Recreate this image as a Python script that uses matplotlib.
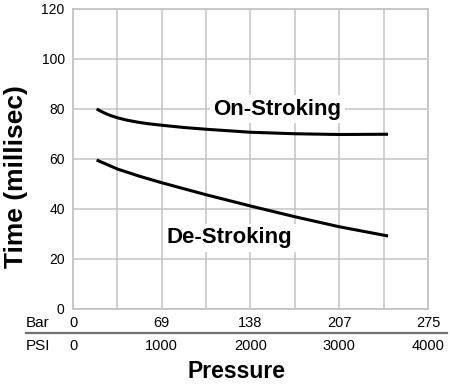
import matplotlib
matplotlib.use("Agg")
import matplotlib.pyplot as plt
from matplotlib.transforms import blended_transform_factory

plt.rcParams['font.family'] = ['Liberation Sans', 'DejaVu Sans']

# Response time vs. pressure
psi_on = [266, 320, 360, 430, 500, 600, 734, 850, 1000, 1250, 1500, 2000, 2500, 3000, 3550]
time_on = [80.0, 79.0, 78.3, 77.3, 76.5, 75.6, 74.7, 74.1, 73.5, 72.6, 71.9, 70.7, 70.1, 69.8, 69.9]

psi_de = [266, 500, 750, 1000, 1500, 2000, 2500, 3000, 3550]
time_de = [59.6, 56.0, 53.1, 50.5, 45.7, 41.2, 36.9, 32.9, 29.2]

psi_ticks = [0, 1000, 2000, 3000, 4000]
psi_labels = ["0", "1000", "2000", "3000", "4000"]
bar_labels = ["0", "69", "138", "207", "275"]
y_ticks = [0, 20, 40, 60, 80, 100, 120]

grid_c = "#c4c4c4"

fig = plt.figure(figsize=(4.5, 3.89), dpi=100)
ax = fig.add_axes([73/450, 1 - 309/389, (428 - 73)/450, (309 - 9)/389])

ax.plot(psi_on, time_on, color="black", lw=2.2, solid_capstyle="butt",
        solid_joinstyle="round", zorder=3)
ax.plot(psi_de, time_de, color="black", lw=2.2, solid_capstyle="butt",
        solid_joinstyle="round", zorder=3)

ax.set_xlim(0, 4000)
ax.set_ylim(0, 120)
ax.set_xticks(range(0, 4001, 500))
ax.set_xticklabels([])
ax.set_yticks(y_ticks)
ax.set_yticklabels([str(v) for v in y_ticks], fontsize=10)
ax.tick_params(axis="both", length=0, pad=6)
ax.grid(True, color=grid_c, lw=1.1)
ax.set_axisbelow(True)
for s in ax.spines.values():
    s.set_color(grid_c)
    s.set_linewidth(1.3)

box = dict(facecolor="white", edgecolor="none", pad=2.5)
ax.text(2303, 80, "On-Stroking", fontsize=16, fontweight="bold",
        ha="center", va="center", bbox=box, zorder=4)
ax.text(1764, 28.4, "De-Stroking", fontsize=16, fontweight="bold",
        ha="center", va="center", bbox=box, zorder=4)

# Dual pressure scale below the plot
tr = blended_transform_factory(ax.transData, fig.transFigure)
y_bar = 1 - 323/389
y_psi = 1 - 346/389
for p, b, s in zip(psi_ticks, bar_labels, psi_labels):
    ax.text(p, y_bar, b, transform=tr, fontsize=10.5, ha="center", va="center")
    ax.text(p, y_psi, s, transform=tr, fontsize=10.5, ha="center", va="center")
fig.text(26/450, y_bar, "Bar", fontsize=11, ha="left", va="center")
fig.text(26/450, y_psi, "PSI", fontsize=11, ha="left", va="center")
fig.add_artist(plt.Line2D([26/450, 447/450], [1 - 333/389, 1 - 333/389],
                          color="#707070", lw=1.6, transform=fig.transFigure))

fig.text(236/450, 1 - 372/389, "Pressure", fontsize=16.5, fontweight="bold",
         ha="center", va="center")
fig.text(16/450, 1 - 177/389, "Time (millisec)", fontsize=19, fontweight="bold",
         ha="center", va="center", rotation=90)

fig.savefig("out.png", dpi=100)
